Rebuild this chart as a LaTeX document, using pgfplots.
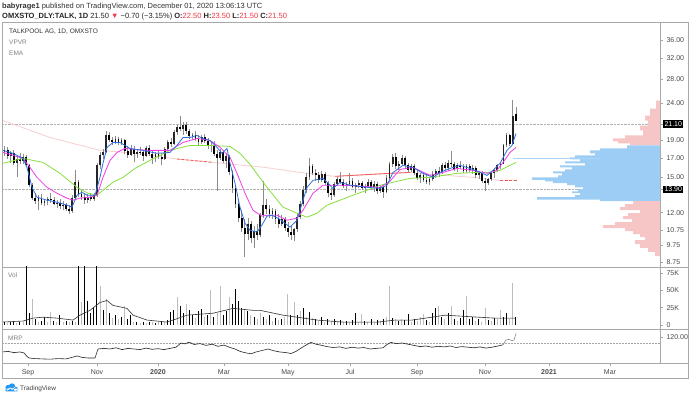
\documentclass[border=0pt]{standalone}
\usepackage{fontspec}
\setmainfont{Liberation Sans}
\usepackage{pgfplots}
\usepackage{pgfplotstable}
\pgfplotsset{compat=1.18}

\definecolor{framegray}{HTML}{A8A8A8}
\definecolor{txtgray}{HTML}{4A4A4A}
\definecolor{wick}{HTML}{8C8C8C}
\definecolor{emablue}{HTML}{2E6FE0}
\definecolor{emamag}{HTML}{F03CE8}
\definecolor{emagreen}{HTML}{86E03C}
\definecolor{smapink}{HTML}{F8CFCF}
\definecolor{smared}{HTML}{F05A5A}
\definecolor{vpblue}{HTML}{9DCDF5}
\definecolor{vppink}{HTML}{F6C6C6}
\definecolor{volgray}{HTML}{BDBDBD}
\definecolor{tvred}{HTML}{F23645}
\definecolor{tvblue}{HTML}{2196F3}
\definecolor{pocblue}{HTML}{A9D3F7}

\pgfplotstableread{
i o h l c v k
1 17.6 18.3 17.2 17.9 4 1
3 17.9 18.2 16.9 17.2 3 0
5 17.2 17.8 16.5 17.5 4 1
7 17.5 17.9 16.2 16.5 5 1
9 16.5 17.2 15.1 16.9 3 0
11 16.9 17.5 16.4 16.7 4 1
13 16.7 17.4 16.3 17.1 5 0
15 17.1 17.3 16.0 16.2 160 1
17 16.2 16.4 14.1 14.3 17 1
19 14.3 14.5 13.0 13.2 38 0
21 13.2 13.6 12.7 12.9 8 1
23 12.9 13.4 12.2 13.2 5 0
25 13.2 13.5 12.6 12.8 6 1
27 12.8 13.1 12.5 12.9 12 1
29 12.9 13.3 12.6 13.1 4 0
31 13.1 13.6 12.8 13.0 19 0
33 13.0 13.3 12.6 12.7 6 1
35 12.7 13.0 12.4 12.8 4 0
37 12.8 13.1 12.3 12.5 14 1
39 12.5 12.9 12.2 12.6 5 0
41 12.6 12.8 12.1 12.3 6 1
43 12.3 12.6 11.9 12.1 4 0
45 12.1 13.4 12.0 13.2 6 1
47 13.2 15.7 13.1 14.6 5 0
49 14.6 14.8 13.3 13.5 160 1
51 13.5 13.9 13.0 13.3 33 0
53 13.3 13.6 12.7 13.0 160 1
55 13.0 13.5 12.8 13.3 35 1
57 13.3 13.6 12.9 13.1 18 1
59 13.1 13.6 12.9 13.4 26 1
61 13.4 16.5 13.3 16.2 160 1
63 16.2 17.6 15.8 17.3 57 0
65 17.3 18.0 16.9 17.7 22 1
67 17.7 20.2 17.5 19.6 38 0
69 19.6 20.0 18.8 19.0 18 1
71 19.0 19.4 18.5 18.8 10 0
73 18.8 19.5 18.6 19.2 14 1
75 19.2 19.4 18.4 18.7 8 0
77 18.7 19.3 18.5 19.0 12 1
79 19.0 19.2 17.4 17.8 28 0
81 17.8 18.3 17.0 17.3 9 1
83 17.3 18.4 17.2 18.0 14 1
85 18.0 18.3 16.6 17.4 5 0
87 17.4 17.9 17.0 17.7 4 1
89 17.7 18.2 17.3 17.6 3 0
91 17.6 17.9 16.7 17.2 5 1
93 17.2 18.3 17.1 18.1 3 0
95 18.1 18.4 17.2 17.4 4 1
97 17.4 17.8 16.3 17.0 5 0
99 17.0 17.6 16.6 17.4 3 1
101 17.4 17.8 16.9 17.1 4 0
103 17.1 17.5 16.2 16.9 6 1
105 16.9 18.2 16.8 18.0 5 0
107 18.0 19.1 17.8 18.8 7 1
109 18.8 19.3 18.2 18.6 19 1
111 18.6 20.3 18.5 20.0 22 1
113 20.0 21.0 19.6 20.7 40 0
115 20.7 22.2 20.2 20.4 28 1
117 20.4 21.3 19.7 21.0 17 1
119 21.0 21.4 19.8 20.1 30 0
121 20.1 20.4 19.2 19.5 22 1
123 19.5 19.9 19.1 19.7 15 1
125 19.7 20.1 18.9 19.2 10 0
127 19.2 19.6 18.5 18.8 20 1
129 18.8 19.7 18.6 19.4 23 1
131 19.4 19.8 18.7 18.9 12 0
133 18.9 19.3 18.0 18.3 14 1
135 18.3 18.8 17.6 18.5 50 0
137 18.5 18.9 17.2 17.4 11 1
139 17.4 17.9 13.8 17.0 18 0
141 17.0 18.0 16.8 17.7 57 0
143 17.7 17.9 16.5 16.7 15 1
145 16.7 17.5 15.9 17.2 20 1
147 17.2 17.3 15.2 15.5 40 0
149 15.5 15.7 13.6 14.0 30 1
151 14.0 14.3 12.4 12.7 52 1
153 12.7 13.0 11.3 11.6 35 1
155 11.6 12.2 10.6 10.9 25 1
157 10.9 11.5 9.05 10.5 22 0
159 10.5 11.6 10.1 11.2 20 1
161 11.2 11.4 9.9 10.2 14 0
163 10.2 11.0 9.6 10.7 12 1
165 10.7 11.2 10.1 10.4 9 0
167 10.4 12.0 10.3 11.8 18 0
169 11.8 14.7 11.6 12.6 12 1
171 12.6 13.1 11.9 12.3 8 0
173 12.3 12.6 11.6 11.9 14 1
175 11.9 12.4 11.5 12.1 6 0
177 12.1 12.3 11.2 11.5 10 1
179 11.5 11.9 10.9 11.2 7 0
181 11.2 11.8 11.0 11.5 9 1
183 11.5 11.7 10.7 10.9 12 0
185 10.9 11.3 10.3 10.6 45 0
187 10.6 11.1 10.1 10.4 14 1
189 10.4 10.9 10.0 10.8 33 0
191 10.8 11.9 10.6 11.7 15 1
193 11.7 12.9 11.5 12.7 20 0
195 12.7 14.2 12.5 13.9 24 1
197 13.9 15.4 13.6 15.1 12 0
199 15.1 16.95 14.8 16.1 19 1
201 16.1 16.4 15.2 15.4 10 0
203 15.4 15.8 14.7 15.2 8 1
205 15.2 15.5 14.5 14.8 6 0
207 14.8 15.6 14.6 15.3 12 1
209 15.3 15.5 14.3 14.5 5 0
211 14.5 14.7 13.3 13.6 9 1
213 13.6 14.0 13.0 13.4 6 0
215 13.4 14.6 13.3 14.4 8 1
217 14.4 15.1 14.2 14.9 5 0
219 14.9 15.5 14.4 14.6 7 1
221 14.6 14.9 14.0 14.2 4 0
223 14.2 14.6 13.8 14.4 6 1
225 14.4 15.4 14.2 14.7 5 0
227 14.7 15.0 14.0 14.1 7 1
229 14.1 14.5 13.6 14.3 18 1
231 14.3 14.8 14.0 14.5 5 0
233 14.5 14.7 13.9 14.0 16 0
235 14.0 14.4 13.6 14.2 6 1
237 14.2 14.9 14.0 14.6 4 0
239 14.6 14.8 13.9 14.1 8 1
241 14.1 14.7 13.7 14.4 5 0
243 14.4 14.6 13.5 13.8 7 1
245 13.8 14.3 13.6 14.1 6 0
247 14.1 14.4 13.2 13.7 8 1
249 13.7 15.2 13.6 15.0 12 0
251 15.0 16.6 14.9 16.3 57 0
253 16.3 17.4 16.0 17.1 10 1
255 17.1 17.5 15.8 16.1 8 0
257 16.1 16.7 15.7 16.4 6 1
259 16.4 17.3 16.2 17.0 9 0
261 17.0 17.2 15.9 16.2 7 1
263 16.2 16.5 15.4 15.7 16 1
265 15.7 16.4 15.5 16.1 5 0
267 16.1 16.3 15.2 15.4 8 1
269 15.4 15.8 14.8 15.0 6 0
271 15.0 15.4 14.5 15.2 12 0
273 15.2 15.5 14.6 14.8 16 0
275 14.8 15.3 14.4 14.6 7 1
277 14.6 15.0 14.3 14.9 5 0
279 14.9 15.6 14.7 15.3 17 1
281 15.3 15.8 15.0 15.6 24 1
283 15.6 16.0 15.1 15.4 27 0
285 15.4 16.5 15.3 16.2 12 1
287 16.2 16.6 15.7 15.9 9 0
289 15.9 16.8 15.6 16.5 17 1
291 16.5 17.8 16.0 16.3 28 0
293 16.3 16.6 15.6 15.8 8 1
295 15.8 16.5 15.5 16.2 6 0
297 16.2 16.7 15.8 16.0 10 1
299 16.0 16.4 15.4 15.6 21 1
301 15.6 16.3 15.4 16.1 42 0
303 16.1 16.4 15.5 15.7 8 1
305 15.7 16.2 15.3 15.9 12 1
307 15.9 16.1 15.0 15.2 6 0
309 15.2 15.6 14.9 15.4 9 1
311 15.4 15.6 14.5 14.7 5 0
313 14.7 15.0 13.8 14.5 24 0
315 14.5 15.0 14.3 14.9 7 1
317 14.9 15.6 14.7 15.4 6 0
319 15.4 15.9 15.0 15.7 10 1
321 15.7 16.4 15.5 16.2 8 0
323 16.2 16.6 15.8 16.4 22 0
325 16.4 18.6 16.3 18.4 12 1
327 18.4 19.9 18.2 19.6 18 1
329 19.6 19.8 18.3 18.6 8 0
331 18.6 24.5 18.5 22.2 61 0
333 22.5 23.5 21.5 21.5 11 1
}\candles

\pgfplotsset{
  pane/.style={
    scale only axis, width=658pt, xmin=2, xmax=660,
    anchor=south west,
    axis line style={draw=framegray, line width=0.5pt},
    xtick=\empty,
    ytick pos=right, yticklabel pos=right,
    tick align=outside, major tick length=3pt,
    tick style={draw=framegray, line width=0.5pt},
    yticklabel style={font=\fontsize{7}{8}\selectfont, text=txtgray},
    /pgf/number format/assume math mode=true,
  },
  candle/.style={only marks, mark=text, text mark={}, forget plot},
}

\begin{document}
\begin{tikzpicture}[x=1pt,y=1pt]
\useasboundingbox (0,0) rectangle (690,396);
\fill[white] (0,0) rectangle (690,396);

% ---------------- price pane ----------------
\begin{axis}[pane, at={(2pt,129pt)}, height=245pt,
  ymode=log, ymin=8.5, ymax=40.3,
  ytick={8.75,9.75,10.75,12,15,17,19,24,28,32,36},
  yticklabels={8.75,9.75,10.75,12.00,15.00,17.00,19.00,24.00,28.00,32.00,36.00},
  minor y tick num=0,
  extra y ticks={13.9,21.1}, extra y tick labels={13.90,21.10},
  extra y tick style={grid=major, major grid style={densely dotted, draw=black!30, line width=0.5pt},
     yticklabel style={fill=black, text=white, inner sep=1.3pt}},
]
% VPVR profile
\addplot[fill=vppink, draw=none, forget plot] coordinates {(660,24.46)(656,24.46)(656,23.25)(650,23.25)(650,22.22)(645,22.22)(645,21.55)(648,21.55)(648,20.88)(640,20.88)(640,20.23)(643,20.23)(643,19.60)(625,19.60)(625,19.23)(613,19.23)(613,18.87)(618,18.87)(618,18.63)(630,18.63)(630,18.40)(660,18.40)};
\addplot[fill=vpblue, draw=none, forget plot] coordinates {(660,18.40)(627,18.40)(627,18.05)(600,18.05)(600,17.83)(590,17.83)(590,17.50)(595,17.50)(595,17.28)(575,17.28)(575,17.06)(570,17.06)(570,16.84)(580,16.84)(580,16.63)(565,16.63)(565,16.42)(585,16.42)(585,16.21)(560,16.21)(560,16.0)(572,16.0)(572,15.80)(565,15.80)(565,15.60)(553,15.60)(553,15.41)(562,15.41)(562,15.21)(558,15.21)(558,15.02)(532,15.02)(532,14.79)(545,14.79)(545,14.65)(553,14.65)(553,14.47)(567,14.47)(567,14.29)(575,14.29)(575,14.10)(583,14.10)(583,13.93)(578,13.93)(578,13.75)(572,13.75)(572,13.58)(580,13.58)(580,13.41)(575,13.41)(575,13.24)(537,13.24)(537,13.03)(600,13.03)(600,12.91)(660,12.91)};
\addplot[fill=vppink, draw=none, forget plot] coordinates {(660,12.91)(633,12.91)(633,12.67)(625,12.67)(625,12.43)(620,12.43)(620,12.19)(640,12.19)(640,11.96)(628,11.96)(628,11.74)(623,11.74)(623,11.52)(632,11.52)(632,11.30)(615,11.30)(615,11.09)(603,11.09)(603,10.88)(625,10.88)(625,10.67)(633,10.67)(633,10.47)(640,10.47)(640,10.28)(645,10.28)(645,10.08)(635,10.08)(635,9.83)(640,9.83)(640,9.59)(648,9.59)(648,9.35)(655,9.35)(655,9.11)(660,9.11)};
\addplot[pocblue, line width=0.6pt, forget plot] coordinates {(513,16.95)(600,16.95)};
% slow average
\addplot[smapink, line width=0.8pt] coordinates {(3,21.55)(50,19.35)(100,17.83)(135,17.50)(180,16.84)(213,16.52)(265,16.0)(300,15.50)(335,15.12)(360,15.25)(390,15.41)(410,15.50)(440,15.25)(473,15.02)(500,14.74)(517,14.74)};
\addplot[smared, line width=0.8pt, dash pattern=on 3pt off 1.5pt] coordinates {(177,16.88)(195,16.70)(213,16.52)};
\addplot[smared, line width=0.8pt] coordinates {(335,15.12)(360,15.25)(390,15.41)(410,15.50)};
\addplot[smared, line width=0.8pt, dash pattern=on 3pt off 1.5pt] coordinates {(500,14.74)(517,14.74)};
% candles: wicks
\addplot[candle,
  error bars/.cd, y dir=plus, y explicit, error mark=none,
  error bar style={line width=0.6pt, draw=wick, line cap=butt}]
  table[x expr=3+1.54*\thisrow{i}, y=l, y error plus expr=\thisrow{h}-\thisrow{l}] {\candles};
% bodies (down)
\addplot[candle,
  error bars/.cd, y dir=minus, y explicit, error mark=none,
  error bar style={line width=1.8pt, draw=black, line cap=butt}]
  table[x expr=3+1.54*\thisrow{i}, y=o, y error minus expr={max(\thisrow{o}-\thisrow{c},0)}] {\candles};
% bodies (up)
\addplot[candle,
  error bars/.cd, y dir=plus, y explicit, error mark=none,
  error bar style={line width=1.8pt, draw=black!85, line cap=butt}]
  table[x expr=3+1.54*\thisrow{i}, y=o, y error plus expr={max(\thisrow{c}-\thisrow{o},0)}] {\candles};
% EMAs
\addplot[emagreen, line width=0.8pt] coordinates {(3,16.42)(23,16.95)(43,16.52)(60,15.41)(77,14.10)(88,13.58)(97,13.41)(103,13.84)(113,14.56)(123,15.02)(135,15.90)(150,16.73)(170,17.83)(190,18.40)(210,18.40)(230,18.28)(240,17.50)(250,16.31)(267,14.10)(283,12.43)(297,11.96)(307,11.66)(317,11.96)(327,12.59)(340,12.99)(353,13.41)(367,13.84)(380,14.29)(393,14.56)(410,14.93)(430,15.02)(457,15.41)(477,15.50)(490,15.50)(500,15.70)(510,16.21)(516,16.52)};
\addplot[emamag, line width=0.8pt] coordinates {(3,17.60)(13,17.28)(23,16.95)(30,16.0)(37,15.02)(47,14.10)(57,13.58)(67,13.16)(73,12.99)(80,13.16)(90,13.24)(97,13.41)(103,15.02)(110,16.73)(117,17.60)(125,18.05)(135,17.94)(150,17.83)(170,17.83)(183,18.75)(197,19.23)(210,18.99)(220,18.17)(230,17.06)(237,15.41)(245,13.58)(253,12.19)(262,11.74)(267,11.81)(277,11.81)(287,11.44)(297,11.59)(303,12.19)(313,13.58)(323,14.29)(333,14.29)(343,14.29)(360,14.20)(380,14.10)(390,14.65)(400,15.80)(413,16.0)(430,15.21)(443,15.50)(457,15.90)(473,15.70)(487,15.41)(497,15.70)(503,16.52)(510,17.60)(516,18.17)};
\addplot[emablue, line width=0.8pt] coordinates {(3,17.83)(13,17.50)(23,16.95)(27,16.0)(32,14.10)(37,13.24)(47,12.99)(57,12.83)(67,12.59)(72,12.43)(77,13.41)(82,13.66)(87,13.41)(95,13.41)(100,15.02)(103,16.42)(107,18.17)(113,18.75)(120,18.75)(125,18.40)(130,18.05)(143,17.83)(157,17.50)(170,17.60)(177,18.40)(183,19.35)(190,19.35)(197,19.60)(203,19.23)(210,18.99)(217,18.17)(222,17.50)(227,18.05)(230,16.42)(235,14.47)(240,12.43)(245,11.23)(250,10.74)(257,10.61)(262,11.10)(267,11.74)(272,11.81)(280,11.50)(290,10.95)(297,11.44)(303,12.99)(307,14.10)(313,14.74)(323,14.93)(328,14.47)(333,14.0)(340,14.56)(350,14.29)(367,14.10)(380,14.0)(387,14.29)(393,15.50)(403,16.21)(413,16.0)(423,15.41)(433,15.02)(440,15.50)(450,15.90)(460,16.21)(470,15.90)(480,15.50)(487,15.21)(493,15.70)(500,16.42)(507,17.83)(512,18.40)(516,19.85)};
\end{axis}

% ---------------- volume pane ----------------
\begin{axis}[pane, at={(2pt,67pt)}, height=62pt,
  ymin=-5.8, ymax=83.8,
  ytick={0,25,50,75}, yticklabels={0,25K,50K,75K}]
\addplot[ycomb, mark=none, volgray, line width=1pt, line cap=butt]
  table[x expr=3+1.54*\thisrow{i}, y expr=\thisrow{v}*(1-\thisrow{k})] {\candles};
\addplot[ycomb, mark=none, black, line width=1pt, line cap=butt]
  table[x expr=3+1.54*\thisrow{i}, y expr=\thisrow{v}*\thisrow{k}] {\candles};
\addplot[black!80, line width=0.6pt] coordinates {(2,4.2)(23,5.7)(33,9.9)(43,11.3)(57,9.9)(73,7.1)(80,14.2)(90,21.2)(100,32.5)(107,35.4)(113,28.3)(127,24)(133,14.2)(147,7.1)(167,4.2)(173,7.1)(187,14.2)(213,17)(233,24)(253,21.2)(260,21.2)(283,14.2)(317,7.1)(343,4.2)(378,4.2)(395,7.1)(412,7.1)(432,11.3)(445,14.2)(462,12.7)(478,11.3)(495,9.9)(515,9.9)};
\end{axis}

% ---------------- MRP pane ----------------
\begin{axis}[pane, at={(2pt,33pt)}, height=34pt,
  ymin=33.3, ymax=146.7,
  ytick={120}, yticklabels={120.00},
  xtick={28,97,158,224,288,350,417,485,549,610},
  xticklabels={Sep,Nov,\textbf{2020},Mar,May,Jul,Sep,Nov,\textbf{2021},Mar},
  xtick pos=left,
  xticklabel style={font=\fontsize{7}{8}\selectfont, text=txtgray}]
\addplot[densely dotted, black!35, line width=0.5pt] coordinates {(2,100)(660,100)};
\addplot[black!85, line width=0.6pt] coordinates {(2,70)(8,72)(14,68)(20,70)(24,67)(27,55)(29,50)(35,48)(42,47)(50,46)(58,48)(66,47)(72,52)(77,57)(82,52)(88,50)(95,50)(98,80)(104,82)(110,80)(116,84)(122,78)(128,82)(134,80)(140,78)(146,83)(152,79)(158,81)(164,78)(170,82)(176,86)(181,100)(185,97)(189,103)(194,95)(200,98)(206,92)(212,96)(218,89)(224,93)(230,85)(235,80)(240,72)(246,67)(251,64)(256,70)(262,75)(268,80)(274,74)(280,70)(286,68)(291,65)(296,72)(302,85)(307,95)(311,102)(316,96)(322,92)(327,88)(333,85)(340,87)(346,82)(352,86)(358,83)(364,85)(370,80)(376,82)(383,84)(387,95)(391,102)(396,98)(402,100)(408,96)(414,92)(420,88)(426,90)(432,86)(438,89)(444,87)(450,90)(456,85)(462,88)(468,86)(474,84)(480,87)(486,83)(492,86)(498,90)(503,94)};
\addplot[black!45, line width=0.6pt] coordinates {(503,94)(506,110)(509,112)(512,108)(514,110)(516,132)};
\end{axis}

% frame and separators
\draw[framegray, line width=0.5pt] (2,18) rectangle (688,374);
\draw[framegray, line width=0.5pt] (660,129) -- (688,129) (660,67) -- (688,67) (660,33) -- (688,33);

% header
\node[anchor=base west, inner sep=0, font=\fontsize{7.5}{9}\selectfont, text=black!80] at (2,387)
  {\textbf{babyrage1} published on TradingView.com, December 01, 2020 13:06:13 UTC};
\node[anchor=base west, inner sep=0, font=\fontsize{7.5}{9}\selectfont, text=black!85] at (2,377.5)
  {\textbf{OMXSTO\_DLY:TALK, 1D} 21.50 {\color{tvred}▼} −0.70 (−3.15\%) \textbf{O:}{\color{tvred}22.50} \textbf{H:}{\color{tvred}23.50} \textbf{L:}{\color{tvred}21.50} \textbf{C:}{\color{tvred}21.50}};
% pane legends
\node[anchor=base west, inner sep=0, font=\fontsize{6.5}{8}\selectfont, text=black!80] at (9,362.5) {TALKPOOL AG, 1D, OMXSTO};
\node[anchor=base west, inner sep=0, font=\fontsize{6.5}{8}\selectfont, text=black!50] at (9,351.5) {VPVR};
\node[anchor=base west, inner sep=0, font=\fontsize{6.5}{8}\selectfont, text=black!50] at (9,340.5) {EMA};
\node[anchor=base west, inner sep=0, font=\fontsize{6.5}{8}\selectfont, text=black!50] at (8,118.5) {Vol};
\node[anchor=base west, inner sep=0, font=\fontsize{6.5}{8}\selectfont, text=black!50] at (8,56) {MRP};
% logo
\fill[tvblue] (8,8.5) circle (2.6) (12,9.5) circle (3.2) (15.5,7.2) circle (2.2) (5.6,4.6) rectangle (17.4,7.4);
\draw[white, line width=0.6pt] (7,5.6) -- (10,8.2) -- (12.2,6.8) -- (15.5,9.4);
\node[anchor=base west, inner sep=0, font=\fontsize{6.5}{8}\selectfont, text=black!75] at (20,6) {TradingView};
\end{tikzpicture}
\end{document}
